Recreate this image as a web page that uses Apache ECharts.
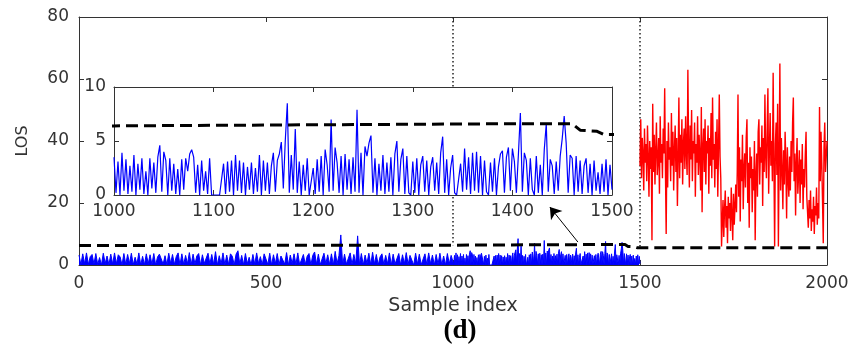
<!DOCTYPE html>
<html>
<head>
<meta charset="utf-8">
<script src="https://cdn.jsdelivr.net/npm/echarts@6/dist/echarts.min.js"></script>
<style>
  html, body { margin: 0; padding: 0; background: #fff; }
  #chart { width: 853px; height: 351px; }
</style>
</head>
<body>
<div id="chart"></div>
<script>
// blue LOS, samples 0..995 every 5 samples
const blueEarly = [
  3.2, 0.1, 3.6, 0.4, 3.9, 0.2, 2.7, 3.4, 0.3, 3.7,
  0.2, 2.4, 0.0, 3.8, 0.5, 2.9, 0.1, 3.5, 0.3, 3.9,
  0.4, 3.3, 2.6, 0.0, 3.7, 0.2, 3.4, 0.5, 3.8, 0.1,
  2.5, 0.3, 3.9, 0.0, 2.8, 0.1, 3.6, 0.4, 3.3, 0.2,
  3.7, 0.0, 2.6, 3.5, 4.1, 0.3, 3.0, 0.1, 3.8, 0.5,
  3.4, 0.2, 2.7, 3.9, 0.0, 3.6, 0.2, 3.1, 0.4, 4.0,
  0.1, 3.5, 0.3, 2.9, 3.7, 0.0, 3.3, 0.5, 0.1, 3.8,
  0.3, 3.4, 0.2, 4.3, 0.0, 3.0, 0.4, 3.9, 0.1, 3.2,
  0.2, 3.6, 2.8, 0.0, 3.5, 4.6, 0.3, 3.1, 0.1, 3.7,
  0.4, 2.5, 0.0, 3.4, 0.2, 3.9, 0.5, 2.7, 0.1, 3.6,
  3.0, 0.2, 3.8, 0.0, 3.3, 0.4, 3.7, 0.1, 2.9, 3.5,
  0.3, 4.0, 0.0, 3.2, 0.5, 3.6, 0.2, 3.9, 0.1, 0.0,
  3.4, 0.2, 2.8, 3.7, 0.0, 3.1, 4.2, 0.3, 3.5, 0.1,
  0.0, 3.8, 0.4, 3.3, 0.2, 3.6, 0.0, 4.4, 0.5, 3.0,
  9.7, 0.1, 3.5, 0.3, 0.0, 3.9, 0.2, 3.4, 0.4, 9.4,
  0.2, 3.7, 0.0, 3.2, 0.5, 3.8, 0.1, 4.1, 0.3, 3.4,
  0.0, 2.6, 3.6, 0.2, 3.1, 0.4, 3.9, 0.0, 3.5, 0.3,
  0.1, 3.7, 0.0, 3.3, 0.4, 4.0, 0.2, 3.1, 2.8, 0.0,
  3.8, 0.3, 3.5, 0.1, 0.0, 3.6, 0.2, 3.9, 0.4, 3.2,
  0.0, 3.4, 0.3, 3.8, 0.1, 2.9, 0.0, 3.7, 0.4, 3.1
];

// blue LOS, samples 1000..1500 every 2 samples (also shown in the inset)
const blueLate = [
  3.5, 0.2, 3.1, 0.0, 3.9, 0.4, 3.3, 0.1, 2.7, 0.3,
  3.7, 0.0, 2.9, 0.5, 3.4, 0.1, 2.2, 0.0, 3.4, 0.6,
  3.0, 0.2, 3.5, 4.6, 0.3, 4.0, 3.2, 0.0, 3.4, 0.4,
  2.9, 0.1, 2.4, 0.0, 3.3, 0.5, 3.4, 2.2, 3.8, 4.2,
  3.5, 0.2, 2.8, 0.0, 3.2, 0.4, 2.2, 0.1, 3.4, 0.0,
  0.0, 0.0, 0.0, 0.0, 0.0, 2.9, 0.1, 3.1, 0.3, 3.2,
  0.0, 3.7, 0.4, 3.2, 0.2, 3.0, 0.0, 2.6, 0.5, 3.0,
  0.1, 2.5, 0.3, 3.7, 0.0, 3.2, 0.4, 3.0, 0.1, 2.7,
  3.9, 0.3, 3.2, 3.8, 4.9, 0.6, 5.1, 8.5, 0.2, 3.7,
  0.5, 6.1, 0.2, 3.1, 0.0, 2.8, 0.4, 3.4, 0.0, 0.0,
  2.5, 0.1, 3.3, 0.3, 3.6, 0.0, 4.2, 2.8, 0.3, 7.0,
  0.4, 4.4, 3.0, 0.2, 3.6, 0.0, 3.8, 0.5, 3.3, 0.1,
  3.5, 0.3, 7.9, 0.2, 3.9, 0.0, 4.5, 3.6, 4.8, 5.5,
  0.2, 3.4, 0.0, 2.9, 0.4, 3.7, 0.1, 3.0, 0.3, 3.5,
  0.0, 3.8, 5.0, 0.3, 3.3, 4.3, 0.1, 3.6, 0.2, 0.0,
  3.1, 0.2, 3.4, 0.0, 2.8, 3.6, 0.3, 3.2, 0.0, 2.6,
  3.5, 0.4, 3.0, 0.1, 3.9, 5.4, 0.2, 3.3, 0.0, 2.5,
  3.7, 0.2, 0.0, 0.0, 2.9, 0.3, 4.3, 0.5, 3.5, 0.1,
  3.9, 0.4, 4.0, 0.2, 3.6, 0.0, 3.2, 0.3, 0.0, 3.0,
  0.3, 3.4, 0.0, 2.6, 3.8, 4.1, 0.2, 3.5, 4.4, 0.4,
  4.3, 3.1, 0.2, 3.7, 7.6, 0.3, 3.9, 3.2, 0.0, 3.4,
  0.5, 0.0, 3.6, 0.2, 2.8, 0.0, 4.2, 6.6, 0.3, 3.3,
  2.7, 0.1, 3.1, 0.4, 3.6, 5.2, 7.3, 4.8, 0.2, 3.7,
  3.4, 0.0, 3.6, 0.3, 3.2, 0.1, 2.7, 3.4, 0.2, 2.9,
  0.0, 3.2, 0.4, 2.1, 0.1, 2.9, 0.3, 3.3, 0.0, 2.8,
  0.5
];

// red LOS, samples 1500..2000 every 2 samples
const redLos = [
  32, 47, 28, 41, 36, 24, 44, 33, 39, 27,
  45, 35, 22, 40, 31, 38, 8, 52, 30, 42,
  26, 37, 46, 29, 34, 41, 23, 48, 33, 39,
  28, 44, 36, 57, 31, 10, 40, 25, 46, 34,
  38, 27, 49, 32, 43, 24, 37, 45, 30, 41,
  19, 35, 54, 28, 42, 33, 47, 26, 39, 44,
  31, 48, 36, 29, 63, 38, 25, 45, 34, 50,
  27, 40, 36, 46, 22, 39, 33, 48, 29, 42,
  35, 24, 51, 17, 38, 44, 30, 47, 26, 40,
  36, 45, 23, 41, 32, 49, 28, 54, 34, 39,
  25, 43, 31, 47, 22, 38, 55, 35, 28, 6,
  14, 21, 9, 18, 24, 12, 19, 7, 22, 15,
  20, 11, 25, 16, 8, 23, 13, 19, 26, 17,
  30, 55, 22, 38, 14, 34, 27, 42, 18, 31,
  36, 25, 41, 47, 20, 33, 12, 38, 28, 35,
  17, 31, 24, 40, 8, 29, 36, 22, 43, 47,
  26, 38, 33, 45, 19, 41, 30, 55, 35, 28,
  44, 57, 23, 37, 49, 32, 40, 27, 62, 34,
  6, 39, 46, 29, 52, 6, 35, 65, 24, 41,
  31, 18, 37, 26, 43, 33, 15, 38, 28, 22,
  35, 24, 40, 30, 46, 54, 27, 36, 16, 33,
  41, 23, 29, 37, 20, 34, 26, 39, 18, 31,
  25, 36, 43, 22, 17, 12, 21, 15, 24, 11,
  18, 14, 22, 10, 19, 16, 25, 13, 20, 15,
  51, 27, 43, 33, 21, 7, 38, 46, 30, 35,
  40
];

// dashed threshold
const thrX = [0, 1000, 1200, 1400, 1460, 1468, 1485, 1492, 1500, 2000];
const thrY = [6.3, 6.4, 6.5, 6.6, 6.6, 6.0, 5.9, 5.6, 5.6, 5.6];

// dotted dividers: x position and where they stop
const dividerX = [1000, 1500];
const dividerLow = [6.4, 5.6];

// arrow from main plot up to the inset
const arrowFrom = [1334, 7.4];
const arrowTo = [1259, 18.7];

const pts = (start, step, vals) => vals.map((v, i) => [start + i * step, v]);
const bluePts = pts(0, 5, blueEarly).concat(pts(1000, 2, blueLate));
const insetPts = pts(1000, 2, blueLate);
const redPts = pts(1500, 2, redLos);
const thrPts = thrX.map((x, i) => [x, thrY[i]]);

const font = 'DejaVu Sans';
const axisCol = '#333';
const label = { color: '#333', fontFamily: font, fontSize: 17, formatter: v => String(v) };

function axis(extra) {
  return Object.assign({
    type: 'value',
    splitLine: { show: false },
    axisLine: { show: true, onZero: false, lineStyle: { color: axisCol, width: 1 } },
    axisTick: { show: true, inside: true, length: 5, lineStyle: { color: axisCol } },
    axisLabel: label
  }, extra);
}
const mirror = { axisLabel: { show: false } };

const myChart = echarts.init(document.getElementById('chart'));
myChart.setOption({
  animation: false,
  grid: [
    { left: 79, right: 26, top: 17, bottom: 86 },
    { left: 114, right: 241, top: 87, bottom: 156, show: true, backgroundColor: '#fff', borderWidth: 0, z: 5 }
  ],
  xAxis: [
    axis({ gridIndex: 0, min: 0, max: 2000, interval: 500,
      axisLabel: Object.assign({}, label, { margin: 10 }),
      name: 'Sample index', nameLocation: 'middle', nameGap: 30,
      nameTextStyle: { color: '#333', fontFamily: font, fontSize: 19 } }),
    axis(Object.assign({ gridIndex: 0, position: 'top', min: 0, max: 2000, interval: 500 }, mirror)),
    axis({ gridIndex: 1, min: 1000, max: 1500, interval: 100, z: 6,
      axisLabel: Object.assign({}, label, { margin: 8 }) }),
    axis(Object.assign({ gridIndex: 1, position: 'top', min: 1000, max: 1500, interval: 100, z: 6 }, mirror))
  ],
  yAxis: [
    axis({ gridIndex: 0, min: 0, max: 80, interval: 20,
      axisLabel: Object.assign({}, label, { margin: 10 }),
      name: 'LOS', nameLocation: 'middle', nameGap: 48,
      nameTextStyle: { color: '#333', fontFamily: font, fontSize: 16 } }),
    axis(Object.assign({ gridIndex: 0, position: 'right', min: 0, max: 80, interval: 20 }, mirror)),
    axis({ gridIndex: 1, min: 0, max: 10, interval: 5, z: 6,
      axisLabel: Object.assign({}, label, { margin: 8 }) }),
    axis(Object.assign({ gridIndex: 1, position: 'right', min: 0, max: 10, interval: 5, z: 6 }, mirror))
  ],
  series: [
    ...dividerX.map((x, i) => ({
      type: 'line', xAxisIndex: 0, yAxisIndex: 0, symbol: 'none', silent: true,
      data: [[x, 80], [x, dividerLow[i]]],
      lineStyle: { color: '#222', width: 1.5, type: [1.5, 2.5] }
    })),
    {
      type: 'line', xAxisIndex: 0, yAxisIndex: 0, symbol: 'none', silent: true,
      data: bluePts, lineStyle: { color: '#0000ff', width: 1 },
      areaStyle: { color: '#0000ff', opacity: 1 }
    },
    {
      type: 'line', xAxisIndex: 0, yAxisIndex: 0, symbol: 'none', silent: true,
      data: redPts, lineStyle: { color: '#ff0000', width: 1.4 }
    },
    {
      type: 'line', xAxisIndex: 0, yAxisIndex: 0, symbol: 'none', silent: true, z: 3,
      data: thrPts, lineStyle: { color: '#000', width: 3, type: [12, 6] },
      markLine: {
        silent: true, symbol: ['none', 'arrow'], symbolSize: 11,
        label: { show: false },
        lineStyle: { color: '#000', width: 1, type: 'solid' },
        data: [[{ coord: arrowFrom }, { coord: arrowTo }]]
      }
    },
    {
      type: 'line', xAxisIndex: 2, yAxisIndex: 2, symbol: 'none', silent: true, z: 7,
      data: insetPts, lineStyle: { color: '#0000ff', width: 1.2 }
    },
    {
      type: 'line', xAxisIndex: 2, yAxisIndex: 2, symbol: 'none', silent: true, z: 8,
      data: thrPts, lineStyle: { color: '#000', width: 3, type: [12, 6] }
    }
  ],
  graphic: [
    {
      type: 'text', x: 460, y: 331,
      style: { text: '(d)', align: 'center', verticalAlign: 'middle',
        font: 'bold 27px "Liberation Serif"', fill: '#000' }
    }
  ]
});
</script>
</body>
</html>
